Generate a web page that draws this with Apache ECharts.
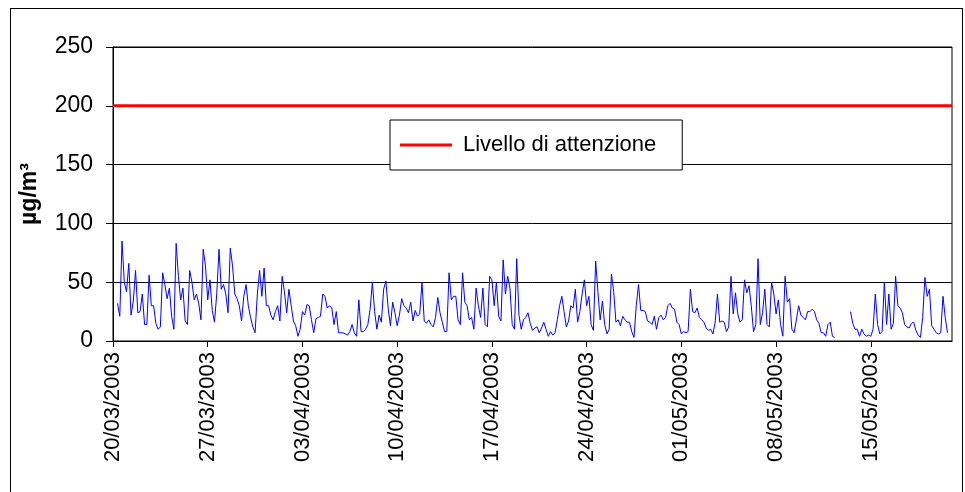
<!DOCTYPE html>
<html><head><meta charset="utf-8">
<script src="https://cdn.jsdelivr.net/npm/echarts@6/dist/echarts.min.js"></script>
<style>
html,body{margin:0;padding:0;background:#fff;}
#frame{position:absolute;left:10px;top:8px;width:953px;height:500px;border:1px solid #000;box-sizing:border-box;}
#chart{position:absolute;left:0;top:0;width:965px;height:492px;}
</style></head><body>
<div id="frame"></div>
<div id="chart"></div>
<script>
// Hourly series sampled every 4 hours starting 20/03/2003 00:00
const startDate = Date.UTC(2003, 2, 20);
const stepHours = 4;
const axisHours = 1488;       // 62 days
const tickHours = 168;        // one week
const week1 = [null,null,32,21,85,50,42,66,22,34, 60,24,25,40,14,14,56,30,30,15, 10,12,58,48,36,45,21,10,83,55, 35,45,17,14,60,50,35,40,32,18, 78,64];
const week2 = [35,52,26,16,40,78,44,48,40,24, 79,64,40,36,30,17,38,48,30,20, 12,7,40,60,38,62,30,30,22,18, 25,30,17,55,42,24,44,30,17,13, 4,10];
const week3 = [25,22,31,30,18,7,19,20,21,40, 38,28,30,28,14,25,7,7,7,6, 5,8,14,7,4,35,8,8,10,14, 27,50,25,10,22,16,44,51,28,13, 33,24];
const week4 = [13,22,36,30,28,24,33,17,26,21, 23,50,17,15,18,14,12,20,37,24, 16,8,8,58,35,38,38,18,14,58, 33,30,18,20,10,45,30,20,45,14, 12,55];
const week5 = [52,30,50,21,17,69,40,55,45,14, 10,70,22,10,18,20,24,15,9,11, 12,7,11,16,10,4,8,5,7,18, 30,38,25,12,17,30,28,44,16,25, 40,52];
const week6 = [30,38,14,9,68,42,18,34,14,6, 10,57,42,16,18,13,21,18,16,16, 8,3,30,48,26,26,25,17,16,14, 21,10,20,22,18,20,30,32,28,27, 16,14];
const week7 = [6,8,7,8,44,25,24,28,20,18, 16,11,9,10,6,16,40,16,17,16, 8,12,55,23,41,23,16,18,52,41, 47,30,8,14,70,14,24,44,14,12, 50,40];
const week8 = [23,35,14,4,55,33,36,10,7,18, 30,22,20,18,25,25,27,25,18,15, 7,7,4,14,16,4,3,null,null,null, null,null,null,25,15,10,10,4,10,6, 4,5];
const week9 = [4,10,40,14,6,8,50,14,40,10, 15,55,30,28,24,14,12,11,15,16, 9,5,3,20,54,38,44,13,10,7, 6,7,38,20,7,null];
const alertLevel = 200;
const alertName = 'Livello di attenzione';
const yMin = 0, yMax = 250, yStep = 50;
const yName = 'µg/m³';

const values = [].concat(week1, week2, week3, week4, week5, week6, week7, week8, week9);
const mainData = values.map((v, i) => [i * stepHours, v]);
const alertData = [[0, alertLevel], [axisHours, alertLevel]];

function pad(n){ return (n < 10 ? '0' : '') + n; }
function fmtDate(h){
  const d = new Date(startDate + h * 3600000);
  return pad(d.getUTCDate()) + '/' + pad(d.getUTCMonth() + 1) + '/' + d.getUTCFullYear();
}

const FONT = 'Arial, "Liberation Sans", sans-serif';
const chart = echarts.init(document.getElementById('chart'), null, {renderer: 'canvas'});
chart.setOption({
  backgroundColor: 'transparent',
  animation: false,
  grid: {left: 113, right: 13, top: 47, bottom: 151, show: true, borderColor: '#000', borderWidth: 1, backgroundColor: 'transparent'},
  legend: {
    left: 390, top: 120,
    data: [{name: alertName, icon: 'rect'}],
    itemWidth: 52, itemHeight: 3,
    backgroundColor: '#fff', borderColor: '#000', borderWidth: 1, borderRadius: 0,
    padding: [14, 26, 14, 10],
    textStyle: {fontFamily: FONT, fontSize: 22, color: '#000', lineHeight: 22, padding: [0, 0, 0, 6]},
    selectedMode: false
  },
  xAxis: {
    type: 'value', min: 0, max: axisHours, interval: tickHours,
    axisLine: {show: true, lineStyle: {color: '#000', width: 1}},
    axisTick: {show: true, inside: false, length: 6, lineStyle: {color: '#000'}},
    splitLine: {show: false},
    axisLabel: {
      rotate: 90, margin: 11, fontFamily: FONT, fontSize: 22, color: '#000',
      showMaxLabel: false,
      formatter: v => (v % tickHours === 0 ? fmtDate(v) : '')
    }
  },
  yAxis: {
    type: 'value', min: yMin, max: yMax, interval: yStep,
    name: yName, nameLocation: 'middle', nameRotate: 90, nameGap: 72,
    nameTextStyle: {fontFamily: FONT, fontSize: 23, fontWeight: 'bold', color: '#000'},
    axisLine: {show: true, lineStyle: {color: '#000', width: 1}},
    axisTick: {show: true, inside: false, length: 7, lineStyle: {color: '#000'}},
    splitLine: {show: true, lineStyle: {color: '#000', width: 1}},
    axisLabel: {margin: 20, fontFamily: FONT, fontSize: 23, color: '#000'}
  },
  series: [
    {
      name: 'Concentrazione', type: 'line', data: mainData,
      showSymbol: false, symbol: 'none', connectNulls: false,
      lineStyle: {color: '#0000ff', width: 1}, itemStyle: {color: '#0000ff'},
      z: 2
    },
    {
      name: alertName, type: 'line', data: alertData,
      showSymbol: false, symbol: 'none',
      lineStyle: {color: '#ff0000', width: 3}, itemStyle: {color: '#ff0000'},
      z: 3
    }
  ]
});
</script>
</body></html>
